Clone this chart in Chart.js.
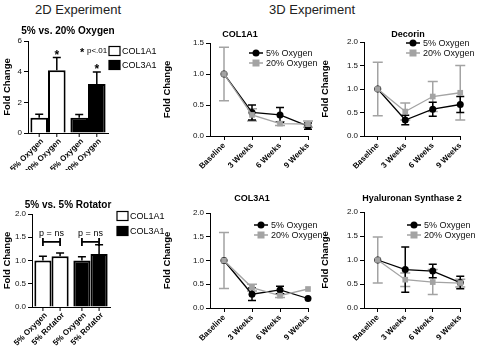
<!DOCTYPE html>
<html>
<head>
<meta charset="utf-8">
<script src="https://cdn.jsdelivr.net/npm/chart.js@4.4.1/dist/chart.umd.min.js"></script>
<style>
  body { margin: 0; background: #fff; width: 478px; height: 347px; position: relative; overflow: hidden; font-family: "Liberation Sans", Arial, sans-serif; }
  canvas { position: absolute; }
  .head { position: absolute; font-size: 13px; color: #222; transform: translateX(-50%); white-space: nowrap; }
</style>
</head>
<body>
<div class="head" style="left:78px;top:2px">2D Experiment</div>
<div class="head" style="left:312px;top:2px">3D Experiment</div>
<canvas id="c1" width="180" height="150" style="left:0;top:20px"></canvas>
<canvas id="c2" width="180" height="157" style="left:0;top:190px"></canvas>
<canvas id="c3" width="170" height="160" style="left:160px;top:20px"></canvas>
<canvas id="c4" width="160" height="160" style="left:318px;top:20px"></canvas>
<canvas id="c5" width="170" height="167" style="left:160px;top:180px"></canvas>
<canvas id="c6" width="160" height="167" style="left:318px;top:180px"></canvas>
<script>
// ---- 2D bar data ----
const genes = ['COL1A1', 'COL3A1'];
const geneFill = ['#ffffff', '#000000'];
const oxyLabels = ['5% Oxygen', '20% Oxygen', '5% Oxygen', '20% Oxygen'];
const oxy5 = [1.0, 1.0];
const oxy5Err = [0.22, 0.2];
const oxy20 = [4.1, 3.2];
const oxy20Err = [0.82, 0.78];

const rotLabels = ['5% Oxygen', '5% Rotator', '5% Oxygen', '5% Rotator'];
const rot5 = [1.0, 1.0];
const rot5Err = [0.09, 0.08];
const rotR = [1.09, 1.14];
const rotRErr = [0.07, 0.2];
const bracketLevel = 1.4;

// ---- 3D line data ----
const weeks = ['Baseline', '3 Weeks', '6 Weeks', '9 Weeks'];
const col1a1Low = [1.0, 0.38, 0.34, 0.16];
const col1a1LowErr = [0, 0.12, 0.12, 0.05];
const col1a1High = [1.0, 0.34, 0.2, 0.19];
const col1a1HighErr = [0.43, 0.1, 0.03, 0.05];

const decorinLow = [1.0, 0.34, 0.57, 0.67];
const decorinLowErr = [0, 0.1, 0.15, 0.17];
const decorinHigh = [1.0, 0.52, 0.84, 0.92];
const decorinHighErr = [0.57, 0.18, 0.32, 0.58];

const col3a1Low = [1.0, 0.29, 0.38, 0.2];
const col3a1LowErr = [0, 0.13, 0.08, 0];
const col3a1High = [1.0, 0.43, 0.26, 0.4];
const col3a1HighErr = [0.59, 0.07, 0.04, 0];

const has2Low = [1.0, 0.8, 0.77, 0.53];
const has2LowErr = [0, 0.47, 0.14, 0.13];
const has2High = [1.0, 0.59, 0.54, 0.52];
const has2HighErr = [0.48, 0.14, 0.26, 0.08];

const GRAY = '#a3a3a3';
const FONT = '"Liberation Sans", Arial, sans-serif';
Chart.defaults.font.family = FONT;
Chart.defaults.color = '#111';
Chart.defaults.animation = false;

function drawErr(chart) {
  const { ctx } = chart;
  const ys = chart.scales.y;
  chart.data.datasets.forEach((ds, i) => {
    if (!ds.err) return;
    chart.getDatasetMeta(i).data.forEach((el, j) => {
      const e = ds.err[j];
      if (!e) return;
      const v = ds.data[j];
      const top = ys.getPixelForValue(v + e);
      const bot = ds.upOnly ? el.y : ys.getPixelForValue(v - e);
      const cap = ds.cap || 5;
      ctx.save();
      ctx.strokeStyle = ds.errColor;
      ctx.lineWidth = ds.errWidth || 1.5;
      ctx.beginPath();
      ctx.moveTo(el.x, top); ctx.lineTo(el.x, bot);
      ctx.moveTo(el.x - cap, top); ctx.lineTo(el.x + cap, top);
      if (!ds.upOnly) { ctx.moveTo(el.x - cap, bot); ctx.lineTo(el.x + cap, bot); }
      ctx.stroke();
      ctx.restore();
    });
  });
}

const errorBars = {
  id: 'errorBars',
  beforeDatasetsDraw(chart) { if (chart.config.type === 'line') drawErr(chart); },
  afterDatasetsDraw(chart) { if (chart.config.type === 'bar') drawErr(chart); }
};

const decor = {
  id: 'decor',
  afterDraw(chart, args, o) {
    const { ctx, chartArea } = chart;
    ctx.save();
    ctx.fillStyle = '#000';
    if (o.title) {
      ctx.font = 'bold ' + (o.title.size || 10) + 'px ' + FONT;
      ctx.textAlign = 'center';
      ctx.textBaseline = 'middle';
      ctx.fillText(o.title.text, o.title.x, o.title.y);
    }
    (o.legend || []).forEach(it => {
      ctx.font = '9px ' + FONT;
      ctx.textAlign = 'left';
      ctx.textBaseline = 'middle';
      if (it.kind === 'box') {
        ctx.fillStyle = it.fill;
        ctx.fillRect(it.x, it.y - 4.5, 11, 9);
        ctx.strokeStyle = '#000';
        ctx.lineWidth = 1.2;
        ctx.strokeRect(it.x, it.y - 4.5, 11, 9);
        ctx.fillStyle = '#000';
        ctx.fillText(it.text, it.x + 13, it.y + 0.5);
      } else {
        ctx.strokeStyle = it.color;
        ctx.lineWidth = 1.5;
        ctx.beginPath(); ctx.moveTo(it.x - 7, it.y); ctx.lineTo(it.x + 7, it.y); ctx.stroke();
        ctx.fillStyle = it.color;
        if (it.point === 'rect') ctx.fillRect(it.x - 3.5, it.y - 3.5, 7, 7);
        else { ctx.beginPath(); ctx.arc(it.x, it.y, 3.5, 0, Math.PI * 2); ctx.fill(); }
        ctx.fillStyle = '#111';
        ctx.fillText(it.text, it.x + 10, it.y + 0.5);
      }
    });
    (o.texts || []).forEach(t => {
      ctx.font = t.font;
      ctx.fillStyle = '#000';
      ctx.textAlign = 'left';
      ctx.textBaseline = 'middle';
      ctx.fillText(t.text, t.x, t.y);
    });
    const ys = chart.scales.y;
    // bar tick labels, one per bar
    if (o.barLabels) {
      const metas = [chart.getDatasetMeta(0), chart.getDatasetMeta(1)];
      ctx.strokeStyle = '#000';
      ctx.lineWidth = 1;
      for (let j = 0; j < metas[0].data.length; j++) {
        metas.forEach((m, i) => {
          const x = m.data[j].x;
          ctx.beginPath(); ctx.moveTo(x, chartArea.bottom); ctx.lineTo(x, chartArea.bottom + 4); ctx.stroke();
          ctx.save();
          ctx.translate(x + 3, chartArea.bottom + 7);
          ctx.rotate(-Math.PI / 4);
          ctx.font = 'bold 8px ' + FONT;
          ctx.textAlign = 'right';
          ctx.textBaseline = 'middle';
          ctx.fillText(o.barLabels[j * 2 + i], 0, 0);
          ctx.restore();
        });
      }
    }
    // significance stars
    (o.stars || []).forEach(s => {
      const ds = chart.data.datasets[s.ds];
      const el = chart.getDatasetMeta(s.ds).data[s.idx];
      const top = ys.getPixelForValue(ds.data[s.idx] + ds.err[s.idx]);
      ctx.font = 'bold 12px ' + FONT;
      ctx.textAlign = 'center';
      ctx.textBaseline = 'alphabetic';
      ctx.fillText('*', el.x, top + 1);
    });
    // p = ns brackets
    if (o.bracket) {
      const m0 = chart.getDatasetMeta(0), m1 = chart.getDatasetMeta(1);
      const by = ys.getPixelForValue(o.bracket.level);
      m0.data.forEach((el, j) => {
        const x1 = el.x, x2 = m1.data[j].x;
        ctx.strokeStyle = '#000';
        ctx.lineWidth = 1.8;
        ctx.beginPath();
        ctx.moveTo(x1, by); ctx.lineTo(x2, by);
        ctx.moveTo(x1, by - 4); ctx.lineTo(x1, by + 4);
        ctx.moveTo(x2, by - 4); ctx.lineTo(x2, by + 4);
        ctx.stroke();
        ctx.font = '9px ' + FONT;
        ctx.textAlign = 'center';
        ctx.textBaseline = 'alphabetic';
        ctx.fillText(o.bracket.text, (x1 + x2) / 2, by - 6);
      });
    }
    // x axis line only up to the last category (line charts)
    if (o.axisToLast) {
      const xs = chart.scales.x;
      const xe = xs.getPixelForValue(chart.data.labels.length - 1);
      ctx.strokeStyle = '#000';
      ctx.lineWidth = 1;
      ctx.beginPath(); ctx.moveTo(chartArea.left, chartArea.bottom + 0.5); ctx.lineTo(xe + 0.5, chartArea.bottom + 0.5); ctx.stroke();
    }
    ctx.restore();
  }
};

function yAxis(width, max, step, dec) {
  return {
    min: 0, max: max,
    ticks: { stepSize: step, font: { size: 8 }, color: '#111', padding: 2, callback: v => v.toFixed(dec) },
    grid: { drawOnChartArea: false, tickLength: 4, color: '#000' },
    border: { color: '#000', width: 1 },
    title: { display: true, text: 'Fold Change', font: { size: 9.5, weight: 'bold' }, color: '#000', padding: { top: 2, bottom: 2 } },
    afterFit: s => { s.width = width; }
  };
}

function barChart(id, cfg) {
  return new Chart(document.getElementById(id), {
    type: 'bar',
    data: {
      labels: genes,
      datasets: [
        { data: cfg.a, err: cfg.aErr, backgroundColor: geneFill, borderColor: '#000', borderWidth: 2, errColor: '#000', upOnly: true, cap: 4, errWidth: 1.5 },
        { data: cfg.b, err: cfg.bErr, backgroundColor: geneFill, borderColor: '#000', borderWidth: 2, errColor: '#000', upOnly: true, cap: 4, errWidth: 1.5 }
      ]
    },
    options: {
      responsive: false,
      layout: { padding: { left: 0, top: cfg.top, right: cfg.right, bottom: 0 } },
      categoryPercentage: 0.88,
      barPercentage: 1.0,
      scales: {
        x: {
          ticks: { display: false },
          grid: { display: false },
          border: { color: '#000', width: 1 },
          afterFit: s => { s.height = cfg.bottom; }
        },
        y: yAxis(cfg.left, cfg.max, cfg.step, cfg.dec)
      },
      plugins: {
        legend: { display: false },
        tooltip: { enabled: false },
        decor: cfg.decor
      }
    },
    plugins: [errorBars, decor]
  });
}

barChart('c1', {
  a: oxy5, aErr: oxy5Err, b: oxy20, bErr: oxy20Err,
  top: 21, right: 72, bottom: 37, left: 28, max: 6, step: 2, dec: 0,
  decor: {
    title: { text: '5% vs. 20% Oxygen', x: 68, y: 11 },
    legend: [
      { kind: 'box', fill: '#fff', text: 'COL1A1', x: 109, y: 31 },
      { kind: 'box', fill: '#000', text: 'COL3A1', x: 109, y: 45 }
    ],
    texts: [
      { text: '*', x: 80, y: 33, font: 'bold 11px ' + FONT },
      { text: 'p<.01', x: 87, y: 31, font: '8px ' + FONT }
    ],
    barLabels: oxyLabels,
    stars: [{ ds: 1, idx: 0 }, { ds: 1, idx: 1 }]
  }
});

barChart('c2', {
  a: rot5, aErr: rot5Err, b: rotR, bErr: rotRErr,
  top: 24, right: 70, bottom: 40, left: 32, max: 2, step: 0.5, dec: 1,
  decor: {
    title: { text: '5% vs. 5% Rotator', x: 68, y: 15 },
    legend: [
      { kind: 'box', fill: '#fff', text: 'COL1A1', x: 117, y: 26 },
      { kind: 'box', fill: '#000', text: 'COL3A1', x: 117, y: 41 }
    ],
    barLabels: rotLabels,
    bracket: { level: bracketLevel, text: 'p = ns' }
  }
});

function lineChart(id, cfg) {
  return new Chart(document.getElementById(id), {
    type: 'line',
    data: {
      labels: weeks,
      datasets: [
        { data: cfg.high, err: cfg.highErr, borderColor: GRAY, backgroundColor: GRAY, errColor: GRAY, borderWidth: 1.3,
          pointStyle: 'rect', pointRadius: 4, pointBorderWidth: 0, cap: 5, errWidth: 1.5, order: 0 },
        { data: cfg.low, err: cfg.lowErr, borderColor: '#000', backgroundColor: '#000', errColor: '#000', borderWidth: 1.3,
          pointStyle: 'circle', pointRadius: 3.5, pointBorderWidth: 0, cap: 4, errWidth: 1.5, order: 1 }
      ]
    },
    options: {
      responsive: false,
      layout: { padding: { left: 0, top: cfg.top, right: cfg.right, bottom: 0 } },
      scales: {
        x: {
          offset: true,
          ticks: { font: { size: 8, weight: 'bold' }, color: '#000', minRotation: 45, maxRotation: 45, padding: 1 },
          grid: { drawOnChartArea: false, tickLength: 4, color: '#000', offset: false },
          border: { display: false },
          afterFit: s => { s.height = cfg.bottom; }
        },
        y: yAxis(cfg.left, cfg.max, 0.5, 1)
      },
      plugins: {
        legend: { display: false },
        tooltip: { enabled: false },
        decor: {
          title: { text: cfg.title, x: cfg.titleX, y: cfg.titleY, size: 9 },
          legend: [
            { kind: 'line', color: '#000', point: 'circle', text: '5% Oxygen', x: cfg.legX, y: cfg.legY },
            { kind: 'line', color: GRAY, point: 'rect', text: '20% Oxygen', x: cfg.legX, y: cfg.legY + 10 }
          ],
          axisToLast: true
        }
      }
    },
    plugins: [errorBars, decor]
  });
}

lineChart('c3', {
  low: col1a1Low, lowErr: col1a1LowErr, high: col1a1High, highErr: col1a1HighErr,
  top: 23, right: 8, bottom: 44, left: 50, max: 1.5,
  title: 'COL1A1', titleX: 80, titleY: 15, legX: 96, legY: 33
});

lineChart('c4', {
  low: decorinLow, lowErr: decorinLowErr, high: decorinHigh, highErr: decorinHighErr,
  top: 22, right: 2, bottom: 44, left: 46, max: 2,
  title: 'Decorin', titleX: 90, titleY: 15, legX: 95, legY: 23
});

lineChart('c5', {
  low: col3a1Low, lowErr: col3a1LowErr, high: col3a1High, highErr: col3a1HighErr,
  top: 33, right: 8, bottom: 39, left: 50, max: 2,
  title: 'COL3A1', titleX: 92, titleY: 19, legX: 101, legY: 45
});

lineChart('c6', {
  low: has2Low, lowErr: has2LowErr, high: has2High, highErr: has2HighErr,
  top: 32, right: 2, bottom: 39, left: 46, max: 2,
  title: 'Hyaluronan Synthase 2', titleX: 94, titleY: 19, legX: 96, legY: 45
});
</script>
</body>
</html>
